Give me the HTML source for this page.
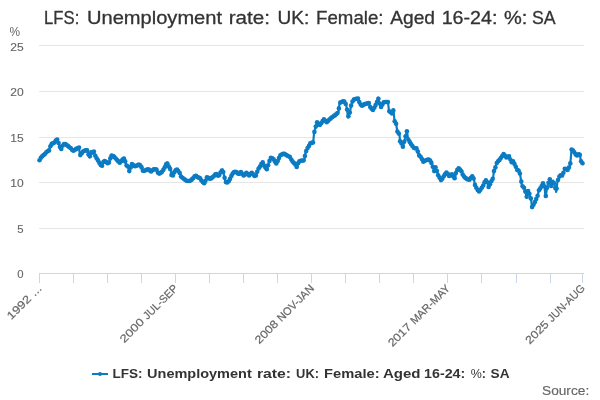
<!DOCTYPE html>
<html><head><meta charset="utf-8"><style>
html,body{margin:0;padding:0;background:#fff;width:600px;height:400px;overflow:hidden}
svg{display:block;will-change:transform}
text{font-family:"Liberation Sans", sans-serif}
</style></head><body>
<svg width="600" height="400" viewBox="0 0 600 400">
<rect width="600" height="400" fill="#fff"/>
<g font-size="18.5" fill="#333333" stroke="#333333" stroke-width="0.3"><text x="44.10" y="24" textLength="35.21" lengthAdjust="spacingAndGlyphs">LFS:</text><text x="86.96" y="24" textLength="135.09" lengthAdjust="spacingAndGlyphs">Unemployment</text><text x="228.70" y="24" textLength="41.24" lengthAdjust="spacingAndGlyphs">rate:</text><text x="277.61" y="24" textLength="31.76" lengthAdjust="spacingAndGlyphs">UK:</text><text x="316.03" y="24" textLength="67.49" lengthAdjust="spacingAndGlyphs">Female:</text><text x="390.18" y="24" textLength="44.82" lengthAdjust="spacingAndGlyphs">Aged</text><text x="441.66" y="24" textLength="55.83" lengthAdjust="spacingAndGlyphs">16-24:</text><text x="503.95" y="24" textLength="23.37" lengthAdjust="spacingAndGlyphs">%:</text><text x="531.97" y="24" textLength="23.67" lengthAdjust="spacingAndGlyphs">SA</text></g>
<text x="9.6" y="35.8" font-size="12.3" fill="#666666" textLength="10.6" lengthAdjust="spacingAndGlyphs">%</text>
<path d="M39 45.5 H584" stroke="#e6e6e6" stroke-width="1"/><path d="M39 91.5 H584" stroke="#e6e6e6" stroke-width="1"/><path d="M39 137.5 H584" stroke="#e6e6e6" stroke-width="1"/><path d="M39 182.5 H584" stroke="#e6e6e6" stroke-width="1"/><path d="M39 228.5 H584" stroke="#e6e6e6" stroke-width="1"/>
<g font-size="11" fill="#666666" stroke="#666666" stroke-width="0.12"><text x="23.6" y="50.5" text-anchor="end" textLength="13.4" lengthAdjust="spacingAndGlyphs">25</text><text x="23.6" y="96.3" text-anchor="end" textLength="13.4" lengthAdjust="spacingAndGlyphs">20</text><text x="23.6" y="141.8" text-anchor="end" textLength="13.4" lengthAdjust="spacingAndGlyphs">15</text><text x="23.6" y="187.3" text-anchor="end" textLength="13.4" lengthAdjust="spacingAndGlyphs">10</text><text x="23.6" y="232.7" text-anchor="end" textLength="6.3" lengthAdjust="spacingAndGlyphs">5</text><text x="23.6" y="278.3" text-anchor="end" textLength="6.3" lengthAdjust="spacingAndGlyphs">0</text></g>
<path d="M39 273.5 H584" stroke="#ccd6eb" stroke-width="1"/>
<path d="M39.5 273 V283" stroke="#ccd6eb" stroke-width="1"/><path d="M73.5 273 V283" stroke="#ccd6eb" stroke-width="1"/><path d="M107.5 273 V283" stroke="#ccd6eb" stroke-width="1"/><path d="M141.5 273 V283" stroke="#ccd6eb" stroke-width="1"/><path d="M175.5 273 V283" stroke="#ccd6eb" stroke-width="1"/><path d="M209.5 273 V283" stroke="#ccd6eb" stroke-width="1"/><path d="M243.5 273 V283" stroke="#ccd6eb" stroke-width="1"/><path d="M277.5 273 V283" stroke="#ccd6eb" stroke-width="1"/><path d="M311.5 273 V283" stroke="#ccd6eb" stroke-width="1"/><path d="M345.5 273 V283" stroke="#ccd6eb" stroke-width="1"/><path d="M379.5 273 V283" stroke="#ccd6eb" stroke-width="1"/><path d="M413.5 273 V283" stroke="#ccd6eb" stroke-width="1"/><path d="M447.5 273 V283" stroke="#ccd6eb" stroke-width="1"/><path d="M481.5 273 V283" stroke="#ccd6eb" stroke-width="1"/><path d="M516.5 273 V283" stroke="#ccd6eb" stroke-width="1"/><path d="M550.5 273 V283" stroke="#ccd6eb" stroke-width="1"/><path d="M582.5 273 V283" stroke="#ccd6eb" stroke-width="1"/>
<g font-size="11" fill="#666666" stroke="#666666" stroke-width="0.2"><g transform="translate(42.50 289) rotate(-45)"><text x="-44.20" y="0" textLength="29.12" lengthAdjust="spacingAndGlyphs">1992</text><text x="-11.46" y="0" textLength="11.46" lengthAdjust="spacingAndGlyphs">…</text></g><g transform="translate(178.59 289) rotate(-45)"><text x="-76.93" y="0" textLength="29.40" lengthAdjust="spacingAndGlyphs">2000</text><text x="-43.87" y="0" textLength="43.87" lengthAdjust="spacingAndGlyphs">JUL-SEP</text></g><g transform="translate(314.68 289) rotate(-45)"><text x="-78.45" y="0" textLength="28.00" lengthAdjust="spacingAndGlyphs">2008</text><text x="-46.97" y="0" textLength="46.97" lengthAdjust="spacingAndGlyphs">NOV-JAN</text></g><g transform="translate(450.77 289) rotate(-45)"><text x="-82.56" y="0" textLength="28.00" lengthAdjust="spacingAndGlyphs">2017</text><text x="-51.08" y="0" textLength="51.08" lengthAdjust="spacingAndGlyphs">MAR-MAY</text></g><g transform="translate(585.50 289) rotate(-45)"><text x="-78.84" y="0" textLength="28.00" lengthAdjust="spacingAndGlyphs">2025</text><text x="-47.36" y="0" textLength="47.36" lengthAdjust="spacingAndGlyphs">JUN-AUG</text></g></g>
<polyline points="39.5,160.2 41.0,157.5 42.5,156.0 45.0,154.0 46.5,152.0 49.0,150.5 50.0,147.0 51.5,144.0 54.5,142.5 57.0,139.0 58.5,143.0 61.0,150.0 62.0,146.5 64.5,143.5 68.0,146.0 71.0,148.5 73.0,151.0 76.0,149.0 79.0,147.5 80.0,155.5 83.5,151.0 87.0,150.0 89.5,157.5 91.0,152.0 92.0,153.0 94.0,151.5 95.5,156.5 97.5,159.5 100.0,164.0 102.0,166.5 102.5,162.5 105.0,161.0 108.5,164.0 110.0,159.0 111.5,155.5 114.0,156.5 117.0,160.0 120.0,163.0 122.0,160.0 124.5,158.0 126.0,165.0 128.5,167.0 129.0,172.0 132.0,164.0 135.0,166.5 139.0,164.5 141.0,166.0 143.0,171.0 145.0,170.5 148.0,169.0 151.0,171.5 154.0,169.0 156.5,169.5 158.5,174.0 161.5,172.5 164.0,169.0 165.5,165.5 167.0,162.5 169.0,167.0 170.5,169.5 171.5,175.0 173.0,175.5 175.0,170.5 177.0,169.5 179.5,172.5 181.0,176.5 184.0,179.0 187.0,181.0 190.0,181.0 193.0,178.5 195.5,175.0 197.0,177.0 200.0,178.0 202.0,181.5 204.5,183.5 207.0,177.0 210.0,179.0 213.0,177.0 216.0,173.5 218.5,176.5 220.5,172.5 222.5,169.5 224.0,175.0 225.5,182.0 228.0,182.5 230.0,179.0 232.0,174.5 234.5,171.5 237.0,172.5 239.0,174.5 241.0,172.0 244.0,176.0 246.5,172.5 249.0,175.5 251.5,172.5 254.5,176.0 256.0,175.5 258.0,169.5 260.0,166.5 262.5,162.0 264.5,166.5 267.0,169.5 269.0,162.0 271.0,157.5 274.0,159.5 276.0,164.0 278.5,159.5 280.0,155.5 284.0,153.5 287.0,155.5 290.0,157.0 292.0,161.0 295.0,164.0 297.0,167.5 298.5,161.5 302.0,160.5 304.5,160.5 305.0,154.5 307.0,149.0 309.5,145.0 310.2,143.2 313.2,142.5 314.0,133.5 315.5,127.5 317.0,122.2 320.0,125.2 323.7,119.2 326.7,122.2 329.7,119.2 333.5,116.2 335.5,115.0 338.5,112.0 339.5,103.0 341.5,102.0 344.0,101.0 346.0,104.5 347.0,109.0 348.0,117.5 350.0,112.0 351.0,106.0 353.0,100.0 355.0,99.0 358.0,98.5 359.5,102.5 361.5,106.0 365.0,104.0 369.0,103.0 370.5,108.0 373.0,110.0 375.0,106.5 377.0,102.0 378.0,97.5 379.5,103.0 381.0,107.0 384.0,102.0 388.0,102.0 389.0,111.0 392.0,113.5 393.5,110.0 394.5,121.0 396.0,123.5 397.5,132.0 399.5,134.5 400.0,141.0 401.5,143.5 403.0,147.0 405.0,138.5 407.0,131.0 408.0,139.0 410.0,142.5 412.0,145.5 414.0,148.0 417.0,148.5 418.8,155.0 421.2,157.5 423.1,161.9 426.2,160.0 429.4,159.4 431.9,163.8 434.4,171.9 435.6,166.9 438.1,175.0 441.2,180.6 444.4,175.0 446.9,171.9 448.8,176.2 451.9,174.4 455.0,178.8 456.2,171.2 458.8,168.1 461.9,171.9 463.1,175.6 466.2,178.8 470.0,180.0 471.9,175.6 473.8,178.8 475.0,185.0 476.9,188.8 478.8,191.9 481.2,188.8 483.1,185.6 485.6,180.0 487.5,182.5 488.8,187.5 490.6,182.5 493.1,178.1 493.8,171.9 495.6,166.9 496.9,162.5 500.0,159.4 503.8,153.8 506.2,157.5 509.4,156.2 511.2,162.5 513.1,161.2 515.6,166.2 517.5,170.6 519.4,170.6 520.6,177.5 521.9,185.6 524.4,188.1 526.9,197.5 527.5,190.0 529.4,193.8 531.2,200.0 531.9,207.5 534.4,203.1 537.5,196.2 538.8,190.6 541.2,186.9 543.1,183.1 544.4,186.2 545.6,196.9 546.9,188.8 548.1,183.8 550.0,178.8 551.2,186.2 553.1,180.6 554.4,184.4 556.2,191.9 557.5,181.2 560.0,175.0 562.5,175.6 565.0,168.1 567.5,170.0 570.0,165.6 570.8,158.5 571.5,149.5 573.0,150.5 575.0,153.0 576.5,156.0 578.0,154.5 579.5,153.5 581.0,161.0 583.0,164.0" fill="none" stroke="#0b7bc3" stroke-width="2.2" stroke-linejoin="round" stroke-linecap="round"/>
<g fill="#0b7bc3"><circle cx="39.5" cy="160.2" r="2.3"/><circle cx="40.9" cy="157.8" r="2.3"/><circle cx="42.2" cy="156.3" r="2.3"/><circle cx="43.6" cy="155.1" r="2.3"/><circle cx="44.9" cy="154.0" r="2.3"/><circle cx="46.3" cy="152.3" r="2.3"/><circle cx="47.7" cy="151.3" r="2.3"/><circle cx="49.0" cy="150.4" r="2.3"/><circle cx="50.4" cy="146.2" r="2.3"/><circle cx="51.7" cy="143.9" r="2.3"/><circle cx="53.1" cy="143.2" r="2.3"/><circle cx="54.5" cy="142.5" r="2.3"/><circle cx="55.8" cy="140.6" r="2.3"/><circle cx="57.2" cy="139.5" r="2.3"/><circle cx="58.6" cy="143.1" r="2.3"/><circle cx="59.9" cy="147.0" r="2.3"/><circle cx="61.3" cy="149.0" r="2.3"/><circle cx="62.6" cy="145.7" r="2.3"/><circle cx="64.0" cy="144.1" r="2.3"/><circle cx="65.4" cy="144.1" r="2.3"/><circle cx="66.7" cy="145.1" r="2.3"/><circle cx="68.1" cy="146.1" r="2.3"/><circle cx="69.4" cy="147.2" r="2.3"/><circle cx="70.8" cy="148.3" r="2.3"/><circle cx="72.2" cy="150.0" r="2.3"/><circle cx="73.5" cy="150.7" r="2.3"/><circle cx="74.9" cy="149.7" r="2.3"/><circle cx="76.2" cy="148.9" r="2.3"/><circle cx="77.6" cy="148.2" r="2.3"/><circle cx="79.0" cy="147.5" r="2.3"/><circle cx="80.3" cy="155.1" r="2.3"/><circle cx="81.7" cy="153.3" r="2.3"/><circle cx="83.0" cy="151.6" r="2.3"/><circle cx="84.4" cy="150.7" r="2.3"/><circle cx="85.8" cy="150.4" r="2.3"/><circle cx="87.1" cy="150.4" r="2.3"/><circle cx="88.5" cy="154.5" r="2.3"/><circle cx="89.9" cy="156.2" r="2.3"/><circle cx="91.2" cy="152.2" r="2.3"/><circle cx="92.6" cy="152.6" r="2.3"/><circle cx="93.9" cy="151.5" r="2.3"/><circle cx="95.3" cy="155.8" r="2.3"/><circle cx="96.7" cy="158.2" r="2.3"/><circle cx="98.0" cy="160.4" r="2.3"/><circle cx="99.4" cy="162.9" r="2.3"/><circle cx="100.7" cy="164.9" r="2.3"/><circle cx="102.1" cy="165.7" r="2.3"/><circle cx="103.5" cy="161.9" r="2.3"/><circle cx="104.8" cy="161.1" r="2.3"/><circle cx="106.2" cy="162.0" r="2.3"/><circle cx="107.5" cy="163.2" r="2.3"/><circle cx="108.9" cy="162.6" r="2.3"/><circle cx="110.3" cy="158.4" r="2.3"/><circle cx="111.6" cy="155.6" r="2.3"/><circle cx="113.0" cy="156.1" r="2.3"/><circle cx="114.3" cy="156.9" r="2.3"/><circle cx="115.7" cy="158.5" r="2.3"/><circle cx="117.1" cy="160.1" r="2.3"/><circle cx="118.4" cy="161.4" r="2.3"/><circle cx="119.8" cy="162.8" r="2.3"/><circle cx="121.2" cy="161.3" r="2.3"/><circle cx="122.5" cy="159.6" r="2.3"/><circle cx="123.9" cy="158.5" r="2.3"/><circle cx="125.2" cy="161.4" r="2.3"/><circle cx="126.6" cy="165.5" r="2.3"/><circle cx="128.0" cy="166.6" r="2.3"/><circle cx="129.3" cy="171.1" r="2.3"/><circle cx="130.7" cy="167.5" r="2.3"/><circle cx="132.0" cy="164.0" r="2.3"/><circle cx="133.4" cy="165.2" r="2.3"/><circle cx="134.8" cy="166.3" r="2.3"/><circle cx="136.1" cy="165.9" r="2.3"/><circle cx="137.5" cy="165.3" r="2.3"/><circle cx="138.8" cy="164.6" r="2.3"/><circle cx="140.2" cy="165.4" r="2.3"/><circle cx="141.6" cy="167.4" r="2.3"/><circle cx="142.9" cy="170.8" r="2.3"/><circle cx="144.3" cy="170.7" r="2.3"/><circle cx="145.7" cy="170.2" r="2.3"/><circle cx="147.0" cy="169.5" r="2.3"/><circle cx="148.4" cy="169.3" r="2.3"/><circle cx="149.7" cy="170.4" r="2.3"/><circle cx="151.1" cy="171.4" r="2.3"/><circle cx="152.5" cy="170.3" r="2.3"/><circle cx="153.8" cy="169.2" r="2.3"/><circle cx="155.2" cy="169.2" r="2.3"/><circle cx="156.5" cy="169.6" r="2.3"/><circle cx="157.9" cy="172.6" r="2.3"/><circle cx="159.3" cy="173.6" r="2.3"/><circle cx="160.6" cy="172.9" r="2.3"/><circle cx="162.0" cy="171.8" r="2.3"/><circle cx="163.3" cy="169.9" r="2.3"/><circle cx="164.7" cy="167.4" r="2.3"/><circle cx="166.1" cy="164.4" r="2.3"/><circle cx="167.4" cy="163.5" r="2.3"/><circle cx="168.8" cy="166.5" r="2.3"/><circle cx="170.1" cy="168.9" r="2.3"/><circle cx="171.5" cy="175.0" r="2.3"/><circle cx="172.9" cy="175.5" r="2.3"/><circle cx="174.2" cy="172.4" r="2.3"/><circle cx="175.6" cy="170.2" r="2.3"/><circle cx="177.0" cy="169.5" r="2.3"/><circle cx="178.3" cy="171.1" r="2.3"/><circle cx="179.7" cy="173.0" r="2.3"/><circle cx="181.0" cy="176.5" r="2.3"/><circle cx="182.4" cy="177.7" r="2.3"/><circle cx="183.8" cy="178.8" r="2.3"/><circle cx="185.1" cy="179.7" r="2.3"/><circle cx="186.5" cy="180.7" r="2.3"/><circle cx="187.8" cy="181.0" r="2.3"/><circle cx="189.2" cy="181.0" r="2.3"/><circle cx="190.6" cy="180.5" r="2.3"/><circle cx="191.9" cy="179.4" r="2.3"/><circle cx="193.3" cy="178.1" r="2.3"/><circle cx="194.6" cy="176.2" r="2.3"/><circle cx="196.0" cy="175.7" r="2.3"/><circle cx="197.4" cy="177.1" r="2.3"/><circle cx="198.7" cy="177.6" r="2.3"/><circle cx="200.1" cy="178.2" r="2.3"/><circle cx="201.4" cy="180.5" r="2.3"/><circle cx="202.8" cy="182.1" r="2.3"/><circle cx="204.2" cy="183.2" r="2.3"/><circle cx="205.5" cy="180.8" r="2.3"/><circle cx="206.9" cy="177.3" r="2.3"/><circle cx="208.3" cy="177.8" r="2.3"/><circle cx="209.6" cy="178.7" r="2.3"/><circle cx="211.0" cy="178.4" r="2.3"/><circle cx="212.3" cy="177.4" r="2.3"/><circle cx="213.7" cy="176.2" r="2.3"/><circle cx="215.1" cy="174.6" r="2.3"/><circle cx="216.4" cy="174.0" r="2.3"/><circle cx="217.8" cy="175.6" r="2.3"/><circle cx="219.1" cy="175.2" r="2.3"/><circle cx="220.5" cy="172.5" r="2.3"/><circle cx="221.9" cy="170.5" r="2.3"/><circle cx="223.2" cy="172.1" r="2.3"/><circle cx="224.6" cy="177.7" r="2.3"/><circle cx="225.9" cy="182.1" r="2.3"/><circle cx="227.3" cy="182.4" r="2.3"/><circle cx="228.7" cy="181.3" r="2.3"/><circle cx="230.0" cy="178.9" r="2.3"/><circle cx="231.4" cy="175.9" r="2.3"/><circle cx="232.7" cy="173.6" r="2.3"/><circle cx="234.1" cy="172.0" r="2.3"/><circle cx="235.5" cy="171.9" r="2.3"/><circle cx="236.8" cy="172.4" r="2.3"/><circle cx="238.2" cy="173.7" r="2.3"/><circle cx="239.6" cy="173.8" r="2.3"/><circle cx="240.9" cy="172.1" r="2.3"/><circle cx="242.3" cy="173.7" r="2.3"/><circle cx="243.6" cy="175.5" r="2.3"/><circle cx="245.0" cy="174.6" r="2.3"/><circle cx="246.4" cy="172.7" r="2.3"/><circle cx="247.7" cy="174.0" r="2.3"/><circle cx="249.1" cy="175.4" r="2.3"/><circle cx="250.4" cy="173.8" r="2.3"/><circle cx="251.8" cy="172.9" r="2.3"/><circle cx="253.2" cy="174.4" r="2.3"/><circle cx="254.5" cy="176.0" r="2.3"/><circle cx="255.9" cy="175.5" r="2.3"/><circle cx="257.2" cy="171.8" r="2.3"/><circle cx="258.6" cy="168.6" r="2.3"/><circle cx="260.0" cy="166.6" r="2.3"/><circle cx="261.3" cy="164.1" r="2.3"/><circle cx="262.7" cy="162.4" r="2.3"/><circle cx="264.0" cy="165.5" r="2.3"/><circle cx="265.4" cy="167.6" r="2.3"/><circle cx="266.8" cy="169.2" r="2.3"/><circle cx="268.1" cy="165.3" r="2.3"/><circle cx="269.5" cy="160.9" r="2.3"/><circle cx="270.9" cy="157.8" r="2.3"/><circle cx="272.2" cy="158.3" r="2.3"/><circle cx="273.6" cy="159.2" r="2.3"/><circle cx="274.9" cy="161.6" r="2.3"/><circle cx="276.3" cy="163.5" r="2.3"/><circle cx="277.7" cy="161.0" r="2.3"/><circle cx="279.0" cy="158.1" r="2.3"/><circle cx="280.4" cy="155.3" r="2.3"/><circle cx="281.7" cy="154.6" r="2.3"/><circle cx="283.1" cy="153.9" r="2.3"/><circle cx="284.5" cy="153.8" r="2.3"/><circle cx="285.8" cy="154.7" r="2.3"/><circle cx="287.2" cy="155.6" r="2.3"/><circle cx="288.5" cy="156.3" r="2.3"/><circle cx="289.9" cy="157.0" r="2.3"/><circle cx="291.3" cy="159.5" r="2.3"/><circle cx="292.6" cy="161.6" r="2.3"/><circle cx="294.0" cy="163.0" r="2.3"/><circle cx="295.3" cy="164.6" r="2.3"/><circle cx="296.7" cy="167.0" r="2.3"/><circle cx="298.1" cy="163.2" r="2.3"/><circle cx="299.4" cy="161.2" r="2.3"/><circle cx="300.8" cy="160.8" r="2.3"/><circle cx="302.2" cy="160.5" r="2.3"/><circle cx="303.5" cy="160.5" r="2.3"/><circle cx="304.9" cy="156.0" r="2.3"/><circle cx="306.2" cy="151.1" r="2.3"/><circle cx="307.6" cy="148.0" r="2.3"/><circle cx="309.0" cy="145.9" r="2.3"/><circle cx="310.3" cy="143.2" r="2.3"/><circle cx="311.7" cy="142.9" r="2.3"/><circle cx="313.0" cy="142.5" r="2.3"/><circle cx="314.4" cy="131.9" r="2.3"/><circle cx="315.8" cy="126.6" r="2.3"/><circle cx="317.1" cy="122.3" r="2.3"/><circle cx="318.5" cy="123.7" r="2.3"/><circle cx="319.8" cy="125.0" r="2.3"/><circle cx="321.2" cy="123.2" r="2.3"/><circle cx="322.6" cy="121.0" r="2.3"/><circle cx="323.9" cy="119.4" r="2.3"/><circle cx="325.3" cy="120.8" r="2.3"/><circle cx="326.7" cy="122.2" r="2.3"/><circle cx="328.0" cy="120.9" r="2.3"/><circle cx="329.4" cy="119.5" r="2.3"/><circle cx="330.7" cy="118.4" r="2.3"/><circle cx="332.1" cy="117.3" r="2.3"/><circle cx="333.5" cy="116.2" r="2.3"/><circle cx="334.8" cy="115.4" r="2.3"/><circle cx="336.2" cy="114.3" r="2.3"/><circle cx="337.5" cy="113.0" r="2.3"/><circle cx="338.9" cy="108.4" r="2.3"/><circle cx="340.3" cy="102.6" r="2.3"/><circle cx="341.6" cy="102.0" r="2.3"/><circle cx="343.0" cy="101.4" r="2.3"/><circle cx="344.3" cy="101.6" r="2.3"/><circle cx="345.7" cy="104.0" r="2.3"/><circle cx="347.1" cy="109.5" r="2.3"/><circle cx="348.4" cy="116.3" r="2.3"/><circle cx="349.8" cy="112.6" r="2.3"/><circle cx="351.1" cy="105.6" r="2.3"/><circle cx="352.5" cy="101.5" r="2.3"/><circle cx="353.9" cy="99.6" r="2.3"/><circle cx="355.2" cy="99.0" r="2.3"/><circle cx="356.6" cy="98.7" r="2.3"/><circle cx="358.0" cy="98.5" r="2.3"/><circle cx="359.3" cy="102.0" r="2.3"/><circle cx="360.7" cy="104.6" r="2.3"/><circle cx="362.0" cy="105.7" r="2.3"/><circle cx="363.4" cy="104.9" r="2.3"/><circle cx="364.8" cy="104.1" r="2.3"/><circle cx="366.1" cy="103.7" r="2.3"/><circle cx="367.5" cy="103.4" r="2.3"/><circle cx="368.8" cy="103.0" r="2.3"/><circle cx="370.2" cy="107.0" r="2.3"/><circle cx="371.6" cy="108.8" r="2.3"/><circle cx="372.9" cy="109.9" r="2.3"/><circle cx="374.3" cy="107.8" r="2.3"/><circle cx="375.6" cy="105.1" r="2.3"/><circle cx="377.0" cy="102.0" r="2.3"/><circle cx="378.4" cy="98.8" r="2.3"/><circle cx="379.7" cy="103.6" r="2.3"/><circle cx="381.1" cy="106.9" r="2.3"/><circle cx="382.4" cy="104.6" r="2.3"/><circle cx="383.8" cy="102.3" r="2.3"/><circle cx="385.2" cy="102.0" r="2.3"/><circle cx="386.5" cy="102.0" r="2.3"/><circle cx="387.9" cy="102.0" r="2.3"/><circle cx="389.3" cy="111.2" r="2.3"/><circle cx="390.6" cy="112.3" r="2.3"/><circle cx="392.0" cy="113.5" r="2.3"/><circle cx="393.3" cy="110.4" r="2.3"/><circle cx="394.7" cy="121.3" r="2.3"/><circle cx="396.1" cy="123.8" r="2.3"/><circle cx="397.4" cy="131.5" r="2.3"/><circle cx="398.8" cy="133.6" r="2.3"/><circle cx="400.1" cy="141.2" r="2.3"/><circle cx="401.5" cy="143.5" r="2.3"/><circle cx="402.9" cy="146.7" r="2.3"/><circle cx="404.2" cy="141.8" r="2.3"/><circle cx="405.6" cy="136.3" r="2.3"/><circle cx="406.9" cy="131.2" r="2.3"/><circle cx="408.3" cy="139.5" r="2.3"/><circle cx="409.7" cy="141.9" r="2.3"/><circle cx="411.0" cy="144.0" r="2.3"/><circle cx="412.4" cy="146.0" r="2.3"/><circle cx="413.7" cy="147.7" r="2.3"/><circle cx="415.1" cy="148.2" r="2.3"/><circle cx="416.5" cy="148.4" r="2.3"/><circle cx="417.8" cy="151.6" r="2.3"/><circle cx="419.2" cy="155.4" r="2.3"/><circle cx="420.6" cy="156.8" r="2.3"/><circle cx="421.9" cy="159.1" r="2.3"/><circle cx="423.3" cy="161.8" r="2.3"/><circle cx="424.6" cy="161.0" r="2.3"/><circle cx="426.0" cy="160.2" r="2.3"/><circle cx="427.4" cy="159.8" r="2.3"/><circle cx="428.7" cy="159.5" r="2.3"/><circle cx="430.1" cy="160.6" r="2.3"/><circle cx="431.4" cy="162.9" r="2.3"/><circle cx="432.8" cy="166.7" r="2.3"/><circle cx="434.2" cy="171.1" r="2.3"/><circle cx="435.5" cy="167.2" r="2.3"/><circle cx="436.9" cy="171.1" r="2.3"/><circle cx="438.2" cy="175.3" r="2.3"/><circle cx="439.6" cy="177.7" r="2.3"/><circle cx="441.0" cy="180.1" r="2.3"/><circle cx="442.3" cy="178.7" r="2.3"/><circle cx="443.7" cy="176.3" r="2.3"/><circle cx="445.0" cy="174.2" r="2.3"/><circle cx="446.4" cy="172.5" r="2.3"/><circle cx="447.8" cy="173.9" r="2.3"/><circle cx="449.1" cy="176.0" r="2.3"/><circle cx="450.5" cy="175.2" r="2.3"/><circle cx="451.9" cy="174.4" r="2.3"/><circle cx="453.2" cy="176.2" r="2.3"/><circle cx="454.6" cy="178.2" r="2.3"/><circle cx="455.9" cy="173.1" r="2.3"/><circle cx="457.3" cy="169.9" r="2.3"/><circle cx="458.7" cy="168.2" r="2.3"/><circle cx="460.0" cy="169.6" r="2.3"/><circle cx="461.4" cy="171.3" r="2.3"/><circle cx="462.7" cy="174.5" r="2.3"/><circle cx="464.1" cy="176.6" r="2.3"/><circle cx="465.5" cy="178.0" r="2.3"/><circle cx="466.8" cy="178.9" r="2.3"/><circle cx="468.2" cy="179.4" r="2.3"/><circle cx="469.5" cy="179.8" r="2.3"/><circle cx="470.9" cy="177.9" r="2.3"/><circle cx="472.3" cy="176.2" r="2.3"/><circle cx="473.6" cy="178.5" r="2.3"/><circle cx="475.0" cy="184.9" r="2.3"/><circle cx="476.3" cy="187.7" r="2.3"/><circle cx="477.7" cy="190.1" r="2.3"/><circle cx="479.1" cy="191.5" r="2.3"/><circle cx="480.4" cy="189.8" r="2.3"/><circle cx="481.8" cy="187.8" r="2.3"/><circle cx="483.2" cy="185.5" r="2.3"/><circle cx="484.5" cy="182.4" r="2.3"/><circle cx="485.9" cy="180.4" r="2.3"/><circle cx="487.2" cy="182.2" r="2.3"/><circle cx="488.6" cy="186.9" r="2.3"/><circle cx="490.0" cy="184.2" r="2.3"/><circle cx="491.3" cy="181.2" r="2.3"/><circle cx="492.7" cy="178.8" r="2.3"/><circle cx="494.0" cy="171.1" r="2.3"/><circle cx="495.4" cy="167.4" r="2.3"/><circle cx="496.8" cy="163.0" r="2.3"/><circle cx="498.1" cy="161.3" r="2.3"/><circle cx="499.5" cy="159.9" r="2.3"/><circle cx="500.8" cy="158.1" r="2.3"/><circle cx="502.2" cy="156.1" r="2.3"/><circle cx="503.6" cy="154.0" r="2.3"/><circle cx="504.9" cy="155.5" r="2.3"/><circle cx="506.3" cy="157.5" r="2.3"/><circle cx="507.7" cy="156.9" r="2.3"/><circle cx="509.0" cy="156.4" r="2.3"/><circle cx="510.4" cy="159.5" r="2.3"/><circle cx="511.7" cy="162.2" r="2.3"/><circle cx="513.1" cy="161.3" r="2.3"/><circle cx="514.5" cy="164.0" r="2.3"/><circle cx="515.8" cy="166.7" r="2.3"/><circle cx="517.2" cy="169.9" r="2.3"/><circle cx="518.5" cy="170.6" r="2.3"/><circle cx="519.9" cy="173.5" r="2.3"/><circle cx="521.3" cy="181.6" r="2.3"/><circle cx="522.6" cy="186.3" r="2.3"/><circle cx="524.0" cy="187.7" r="2.3"/><circle cx="525.3" cy="191.6" r="2.3"/><circle cx="526.7" cy="196.8" r="2.3"/><circle cx="528.1" cy="191.1" r="2.3"/><circle cx="529.4" cy="193.8" r="2.3"/><circle cx="530.8" cy="198.4" r="2.3"/><circle cx="532.1" cy="207.1" r="2.3"/><circle cx="533.5" cy="204.7" r="2.3"/><circle cx="534.9" cy="202.1" r="2.3"/><circle cx="536.2" cy="199.1" r="2.3"/><circle cx="537.6" cy="195.8" r="2.3"/><circle cx="539.0" cy="190.3" r="2.3"/><circle cx="540.3" cy="188.3" r="2.3"/><circle cx="541.7" cy="186.0" r="2.3"/><circle cx="543.0" cy="183.2" r="2.3"/><circle cx="544.4" cy="186.2" r="2.3"/><circle cx="545.8" cy="195.9" r="2.3"/><circle cx="547.1" cy="187.8" r="2.3"/><circle cx="548.5" cy="182.8" r="2.3"/><circle cx="549.8" cy="179.2" r="2.3"/><circle cx="551.2" cy="185.9" r="2.3"/><circle cx="552.6" cy="182.2" r="2.3"/><circle cx="553.9" cy="183.0" r="2.3"/><circle cx="555.3" cy="188.0" r="2.3"/><circle cx="556.6" cy="188.6" r="2.3"/><circle cx="558.0" cy="180.0" r="2.3"/><circle cx="559.4" cy="176.6" r="2.3"/><circle cx="560.7" cy="175.2" r="2.3"/><circle cx="562.1" cy="175.5" r="2.3"/><circle cx="563.4" cy="172.8" r="2.3"/><circle cx="564.8" cy="168.7" r="2.3"/><circle cx="566.2" cy="169.0" r="2.3"/><circle cx="567.5" cy="169.9" r="2.3"/><circle cx="568.9" cy="167.6" r="2.3"/><circle cx="570.3" cy="163.4" r="2.3"/><circle cx="571.6" cy="149.6" r="2.3"/><circle cx="573.0" cy="150.5" r="2.3"/><circle cx="574.3" cy="152.2" r="2.3"/><circle cx="575.7" cy="154.4" r="2.3"/><circle cx="577.1" cy="155.4" r="2.3"/><circle cx="578.4" cy="154.2" r="2.3"/><circle cx="579.8" cy="154.9" r="2.3"/><circle cx="581.1" cy="161.2" r="2.3"/><circle cx="582.5" cy="163.2" r="2.3"/></g>
<path d="M92 374 H108" stroke="#0b7bc3" stroke-width="2"/>
<circle cx="100" cy="374" r="2" fill="#0b7bc3"/>
<g font-size="12.5" font-weight="bold" fill="#333333"><text x="112.40" y="378" textLength="30.10" lengthAdjust="spacingAndGlyphs">LFS:</text><text x="147.10" y="378" textLength="104.64" lengthAdjust="spacingAndGlyphs">Unemployment</text><text x="257.00" y="378" textLength="34.10" lengthAdjust="spacingAndGlyphs">rate:</text><text x="296.10" y="378" textLength="22.86" lengthAdjust="spacingAndGlyphs">UK:</text><text x="324.10" y="378" textLength="55.52" lengthAdjust="spacingAndGlyphs">Female:</text><text x="382.90" y="378" textLength="37.61" lengthAdjust="spacingAndGlyphs">Aged</text><text x="424.10" y="378" textLength="41.19" lengthAdjust="spacingAndGlyphs">16-24:</text><text x="470.70" y="378" textLength="15.24" lengthAdjust="spacingAndGlyphs"><tspan font-weight="normal">%</tspan>:</text><text x="490.60" y="378" textLength="18.95" lengthAdjust="spacingAndGlyphs">SA</text></g>
<text x="542" y="395" font-size="12.5" fill="#666666" stroke="#666666" stroke-width="0.15" textLength="47.2" lengthAdjust="spacingAndGlyphs">Source:</text>
</svg>
</body></html>
